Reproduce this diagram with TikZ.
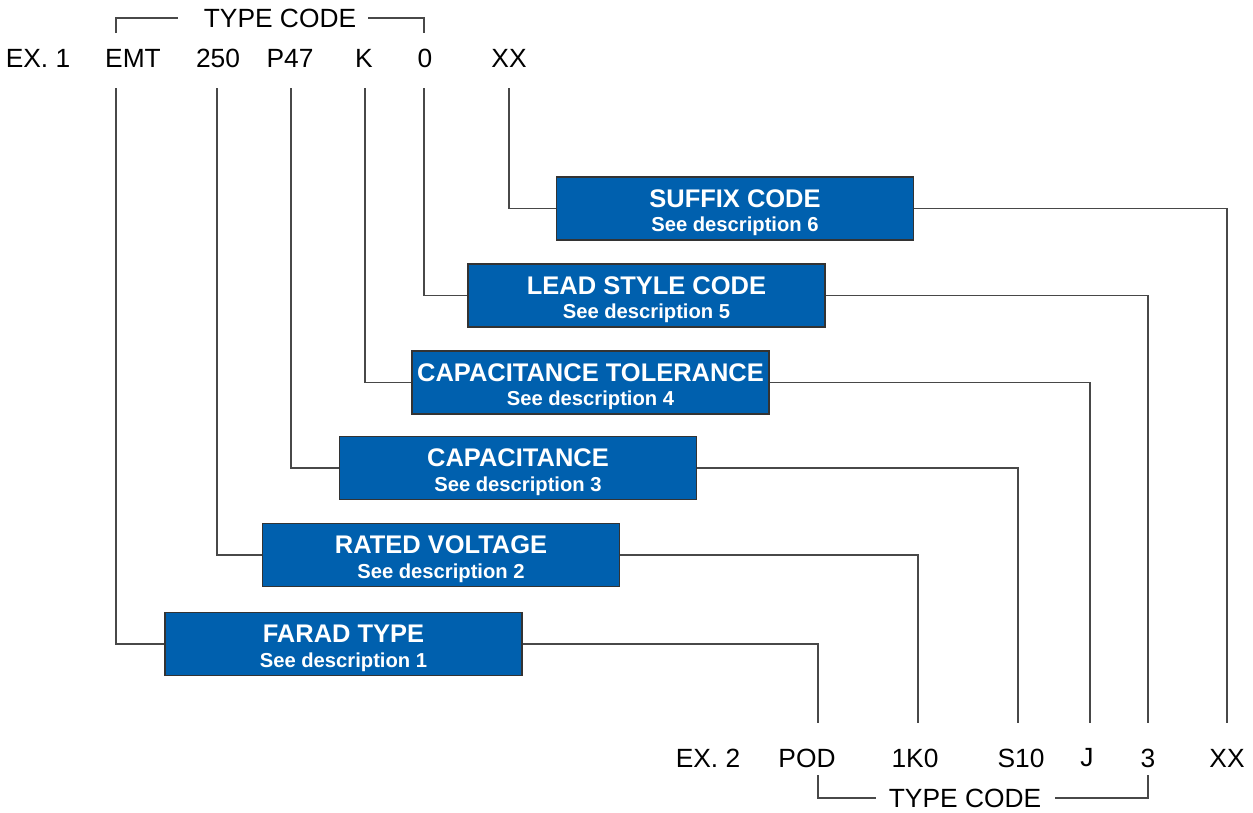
\documentclass[tikz,border=0pt]{standalone}
\usepackage{fontspec}
\setmainfont{Liberation Sans}
\usetikzlibrary{positioning}
\definecolor{boxblue}{RGB}{0,96,174}
\definecolor{leadgray}{RGB}{72,72,72}
\tikzset{
	codebox/.style={draw=black!80, line width=1pt, fill=boxblue, text=white, minimum width=7.14cm, minimum height=1.26cm, align=center, inner sep=0pt},
	code/.style={inner sep=0pt, font=\fontsize{15}{18}\selectfont},
	lead/.style={draw=leadgray, line width=0.6pt},
}
\newcommand{\codelabel}[2]{{\fontsize{14.5}{16}\selectfont\bfseries\rule{0pt}{15pt}#1}\\[2pt]{\fontsize{11.5}{13}\selectfont\bfseries #2}}

\begin{document}
\begin{tikzpicture}[x=0.02cm, y=-0.02cm]
				\useasboundingbox (0,0) rectangle (1253,812);
				% example 1
				\node[code] (typetop) at (280,18) {TYPE CODE};
				\node[code] (ex1) at (38,58) {EX. 1};
				\node[code] (emt) at (133,58) {EMT};
				\node[code] (volt250) at (218,58) {250};
				\node[code] (p47) at (290,58) {P47};
				\node[code] (tolk) at (364,58) {K};
				\node[code] (lead0) at (425,58) {0};
				\node[code] (xxtop) at (509,58) {XX};
				\draw[lead] (116,33) |- (178,18);
				\draw[lead] (368,18) -| (424,33);
				% boxes
				\node[codebox] (suffix) at (735,208.5) {\codelabel{SUFFIX CODE}{See description 6}};
				\node[codebox] (leadstyle) at (646.5,295.5) {\codelabel{LEAD STYLE CODE}{See description 5}};
				\node[codebox] (captol) at (590.5,382.5) {\codelabel{CAPACITANCE TOLERANCE}{See description 4}};
				\node[codebox] (cap) at (518,468) {\codelabel{CAPACITANCE}{See description 3}};
				\node[codebox] (voltage) at (441,555) {\codelabel{RATED VOLTAGE}{See description 2}};
				\node[codebox] (farad) at (343.5,644) {\codelabel{FARAD TYPE}{See description 1}};
				% example 2
				\node[code] (ex2) at (708,758) {EX. 2};
				\node[code] (pod) at (807,758) {POD};
				\node[code] (k10) at (915,758) {1K0};
				\node[code] (s10) at (1021,758) {S10};
				\node[code] (tolj) at (1087,758) {J};
				\node[code] (lead3) at (1148,758) {3};
				\node[code] (xxbot) at (1227,758) {XX};
				\node[code] (typebot) at (965,798) {TYPE CODE};
				\draw[lead] (818,775) |- (876,798);
				\draw[lead] (1055,798) -| (1148,775);
				% line ends
				\coordinate (t1) at (116,88);
				\coordinate (t2) at (217,88);
				\coordinate (t3) at (291,88);
				\coordinate (t4) at (365,88);
				\coordinate (t5) at (424,88);
				\coordinate (t6) at (509,88);
				\coordinate (b1) at (818,723);
				\coordinate (b2) at (918,723);
				\coordinate (b3) at (1018,723);
				\coordinate (b4) at (1090,723);
				\coordinate (b5) at (1148,723);
				\coordinate (b6) at (1227,723);
				% leads to boxes
				\draw[lead] (t1) |- (farad.west);
				\draw[lead] (t2) |- (voltage.west);
				\draw[lead] (t3) |- (cap.west);
				\draw[lead] (t4) |- (captol.west);
				\draw[lead] (t5) |- (leadstyle.west);
				\draw[lead] (t6) |- (suffix.west);
				\draw[lead] (farad.east) -| (b1);
				\draw[lead] (voltage.east) -| (b2);
				\draw[lead] (cap.east) -| (b3);
				\draw[lead] (captol.east) -| (b4);
				\draw[lead] (leadstyle.east) -| (b5);
				\draw[lead] (suffix.east) -| (b6);
			\end{tikzpicture}
\end{document}
